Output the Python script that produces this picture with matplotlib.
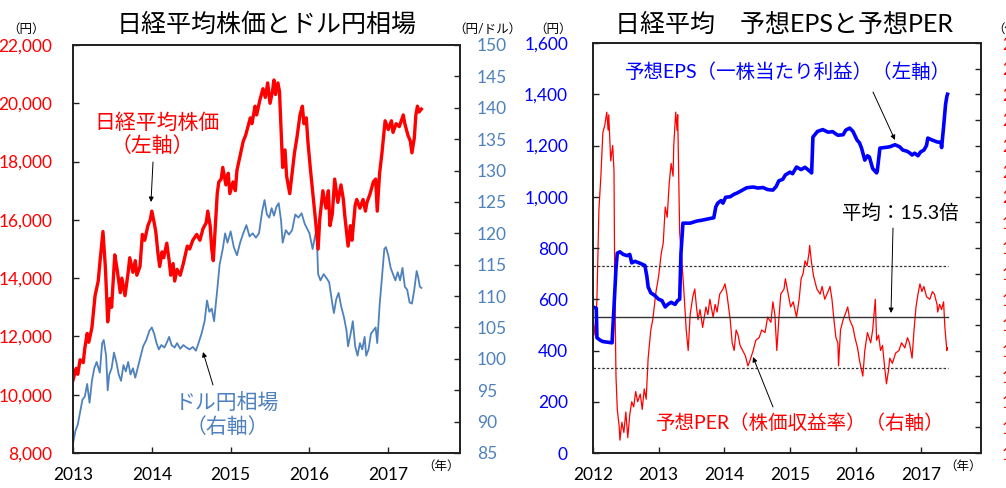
import matplotlib
matplotlib.use("Agg")
import matplotlib.pyplot as plt
from matplotlib.ticker import FuncFormatter, FixedLocator

plt.rcParams['font.family'] = ['Lato', 'Noto Sans CJK JP', 'DejaVu Sans']

# ---------------- data: left panel ----------------
nikkei_t = [2013.00, 2013.04, 2013.06, 2013.09, 2013.13, 2013.15, 2013.18, 2013.20, 2013.24, 2013.28,
            2013.32, 2013.34, 2013.38, 2013.41, 2013.43, 2013.44, 2013.47, 2013.49, 2013.53, 2013.56,
            2013.60, 2013.62, 2013.66, 2013.70, 2013.72, 2013.76, 2013.79, 2013.81, 2013.85, 2013.88,
            2013.91, 2013.95, 2013.98, 2014.00, 2014.03, 2014.05, 2014.08, 2014.10, 2014.13, 2014.15,
            2014.19, 2014.22, 2014.24, 2014.27, 2014.29, 2014.32, 2014.36, 2014.40, 2014.45, 2014.48,
            2014.52, 2014.57, 2014.61, 2014.65, 2014.69, 2014.71, 2014.74, 2014.76, 2014.78, 2014.80,
            2014.83, 2014.85, 2014.88, 2014.90, 2014.94, 2014.97, 2014.99, 2015.03, 2015.06, 2015.08,
            2015.12, 2015.16, 2015.19, 2015.25, 2015.27, 2015.31, 2015.33, 2015.37, 2015.41, 2015.44,
            2015.47, 2015.50, 2015.53, 2015.55, 2015.57, 2015.60, 2015.62, 2015.65, 2015.66, 2015.69,
            2015.71, 2015.75, 2015.78, 2015.81, 2015.84, 2015.88, 2015.91, 2015.93, 2015.96, 2015.98,
            2016.01, 2016.04, 2016.05, 2016.08, 2016.11, 2016.13, 2016.17, 2016.21, 2016.24, 2016.26,
            2016.29, 2016.32, 2016.36, 2016.40, 2016.43, 2016.45, 2016.49, 2016.52, 2016.54, 2016.58,
            2016.60, 2016.64, 2016.68, 2016.71, 2016.73, 2016.77, 2016.81, 2016.84, 2016.86, 2016.89,
            2016.92, 2016.96, 2017.00, 2017.04, 2017.06, 2017.10, 2017.14, 2017.19, 2017.21, 2017.25,
            2017.28, 2017.30, 2017.33, 2017.35, 2017.37, 2017.39, 2017.42]
nikkei_v = [10500, 10900, 10700, 11200, 11100, 11600, 12100, 11800, 12300, 13400,
            13900, 14500, 15600, 14400, 13200, 12500, 13300, 13000, 14800, 14300,
            13500, 14000, 13400, 14200, 14700, 14200, 14600, 14100, 14400, 15500,
            15300, 15800, 16000, 16300, 15900, 15600, 14800, 14400, 14900, 14700,
            15200, 14600, 14100, 14500, 13900, 14300, 14100, 14500, 15100, 15000,
            15300, 15500, 15300, 15700, 15900, 16300, 15800, 15000, 14600, 15500,
            16900, 17300, 17400, 17800, 17200, 17600, 16900, 17300, 17000, 17700,
            18200, 18700, 18900, 19500, 19300, 19900, 19600, 20100, 20500, 20200,
            20700, 20000, 20400, 20800, 20300, 20700, 20400, 18500, 17800, 18400,
            17500, 16900, 17600, 18300, 18800, 19600, 19900, 19300, 19500, 18700,
            17800, 17000, 16700, 15900, 15000, 16000, 17000, 16400, 17000, 15800,
            16200, 17400, 16600, 17200, 16700, 16100, 15100, 15800, 15300, 16500,
            16700, 16400, 16700, 16300, 16600, 16900, 17300, 17400, 16300, 17600,
            18300, 19400, 19100, 19400, 19000, 19300, 19200, 19600, 19300, 18900,
            18700, 18300, 18800, 19600, 19900, 19700, 19800]

usdjpy_t = [2013.00, 2013.03, 2013.06, 2013.09, 2013.12, 2013.15, 2013.18, 2013.21, 2013.24, 2013.27,
            2013.30, 2013.34, 2013.37, 2013.39, 2013.42, 2013.44, 2013.46, 2013.49, 2013.52, 2013.55,
            2013.58, 2013.61, 2013.64, 2013.67, 2013.70, 2013.73, 2013.76, 2013.79, 2013.82, 2013.85,
            2013.89, 2013.93, 2013.97, 2014.00, 2014.03, 2014.06, 2014.09, 2014.12, 2014.16, 2014.19,
            2014.22, 2014.25, 2014.29, 2014.32, 2014.36, 2014.40, 2014.44, 2014.48, 2014.52, 2014.56,
            2014.60, 2014.63, 2014.67, 2014.70, 2014.73, 2014.76, 2014.79, 2014.83, 2014.86, 2014.90,
            2014.93, 2014.96, 2015.00, 2015.04, 2015.08, 2015.12, 2015.16, 2015.20, 2015.24, 2015.28,
            2015.32, 2015.36, 2015.40, 2015.43, 2015.46, 2015.49, 2015.52, 2015.55, 2015.58, 2015.61,
            2015.64, 2015.66, 2015.70, 2015.74, 2015.78, 2015.82, 2015.86, 2015.90, 2015.94, 2016.00,
            2016.04, 2016.07, 2016.09, 2016.11, 2016.14, 2016.18, 2016.22, 2016.25, 2016.29, 2016.31,
            2016.34, 2016.37, 2016.40, 2016.44, 2016.47, 2016.49, 2016.53, 2016.55, 2016.58, 2016.61,
            2016.64, 2016.67, 2016.70, 2016.72, 2016.75, 2016.78, 2016.81, 2016.84, 2016.86, 2016.89,
            2016.92, 2016.95, 2016.97, 2017.00, 2017.03, 2017.06, 2017.09, 2017.12, 2017.15, 2017.18,
            2017.21, 2017.24, 2017.27, 2017.30, 2017.33, 2017.36, 2017.38, 2017.40, 2017.42]
usdjpy_v = [86.5, 88.5, 89.5, 91.5, 93.5, 94.0, 96.0, 93.0, 96.5, 98.5,
            99.5, 97.8, 102.5, 103.0, 100.5, 95.0, 97.5, 98.5, 101.0, 99.5,
            97.5, 96.5, 99.0, 98.0, 99.5, 97.5, 98.5, 97.0, 98.5, 100.0,
            102.0, 103.0, 104.5, 105.0, 104.0, 102.5, 101.5, 102.2, 101.8, 102.6,
            103.5, 102.2, 101.8, 102.5, 101.6, 102.2, 101.8, 101.5, 101.9, 101.3,
            102.8, 104.0, 106.0, 109.3, 107.5, 108.0, 106.0, 111.0, 115.0, 117.5,
            120.0, 118.5, 120.3, 117.8, 116.5, 118.5, 120.0, 121.3, 119.5, 120.0,
            119.3, 120.0, 123.5, 125.3, 123.0, 122.5, 124.0, 122.8, 124.2, 124.8,
            122.0, 118.5, 120.5, 119.8, 120.5, 123.0, 122.5, 123.2, 121.5, 120.0,
            117.5, 119.5, 120.5, 113.5, 112.5, 113.5, 112.8, 112.2, 108.8, 107.3,
            109.5, 110.5, 108.5, 106.5, 104.5, 102.0, 104.5, 106.0, 102.0, 100.5,
            102.5, 101.5, 103.5, 100.5, 101.5, 104.0, 104.5, 105.0, 102.5, 108.5,
            113.0, 117.5, 117.8, 116.5, 114.5, 113.5, 112.5, 113.8, 112.5, 114.5,
            111.5, 111.0, 109.0, 108.8, 111.0, 114.0, 113.0, 111.5, 111.3]

# ---------------- data: right panel ----------------
eps_t = [2012.00, 2012.05, 2012.06, 2012.11, 2012.15, 2012.23, 2012.29, 2012.32, 2012.35, 2012.37,
         2012.41, 2012.46, 2012.52, 2012.56, 2012.59, 2012.64, 2012.72, 2012.79, 2012.82, 2012.84,
         2012.88, 2012.94, 2013.00, 2013.05, 2013.10, 2013.14, 2013.19, 2013.25, 2013.29, 2013.32,
         2013.34, 2013.37, 2013.48, 2013.58, 2013.67, 2013.78, 2013.84, 2013.87, 2013.90, 2013.95,
         2013.98, 2014.02, 2014.09, 2014.15, 2014.19, 2014.27, 2014.34, 2014.44, 2014.51, 2014.59,
         2014.66, 2014.74, 2014.79, 2014.83, 2014.89, 2014.93, 2015.00, 2015.04, 2015.10, 2015.17,
         2015.23, 2015.30, 2015.33, 2015.35, 2015.42, 2015.50, 2015.58, 2015.65, 2015.73, 2015.81,
         2015.85, 2015.91, 2015.96, 2016.02, 2016.06, 2016.09, 2016.14, 2016.18, 2016.21, 2016.26,
         2016.32, 2016.33, 2016.37, 2016.44, 2016.52, 2016.60, 2016.67, 2016.72, 2016.78, 2016.82,
         2016.86, 2016.90, 2016.95, 2016.99, 2017.04, 2017.08, 2017.10, 2017.16, 2017.24, 2017.30,
         2017.31, 2017.34, 2017.37, 2017.39, 2017.40]
eps_v = [570, 565, 450, 440, 435, 432, 430, 570, 720, 780,
         785, 775, 770, 775, 742, 748, 740, 732, 690, 648,
         625, 615, 600, 595, 570, 580, 588, 580, 595, 600,
         780, 897, 897, 905, 909, 915, 918, 960, 975, 985,
         975, 998, 1000, 1010, 1014, 1025, 1035, 1038, 1034, 1036,
         1028, 1026, 1040, 1062, 1068, 1085, 1096, 1090, 1116, 1106,
         1115, 1100, 1093, 1233, 1255, 1262, 1252, 1254, 1240, 1242,
         1260, 1268, 1255, 1222, 1210, 1190, 1143, 1160, 1155, 1110,
         1093, 1100, 1190, 1192, 1195, 1203, 1195, 1182, 1178, 1172,
         1163, 1170, 1160, 1175, 1182, 1200, 1229, 1222, 1214, 1212,
         1192, 1272, 1360, 1392, 1400]

per_t = [2012.00, 2012.03, 2012.06, 2012.09, 2012.12, 2012.15, 2012.18, 2012.21, 2012.23, 2012.24,
         2012.27, 2012.30, 2012.32, 2012.33, 2012.35, 2012.37, 2012.40, 2012.41, 2012.44, 2012.47,
         2012.50, 2012.53, 2012.56, 2012.59, 2012.62, 2012.65, 2012.68, 2012.72, 2012.75, 2012.78,
         2012.81, 2012.84, 2012.88, 2012.91, 2012.96, 2013.00, 2013.04, 2013.07, 2013.10, 2013.13,
         2013.16, 2013.19, 2013.22, 2013.23, 2013.26, 2013.28, 2013.29, 2013.32, 2013.35, 2013.38,
         2013.42, 2013.45, 2013.48, 2013.52, 2013.55, 2013.58, 2013.60, 2013.63, 2013.67, 2013.72,
         2013.75, 2013.78, 2013.83, 2013.86, 2013.89, 2013.93, 2013.98, 2014.01, 2014.04, 2014.09,
         2014.12, 2014.15, 2014.18, 2014.21, 2014.24, 2014.28, 2014.32, 2014.36, 2014.39, 2014.44,
         2014.48, 2014.53, 2014.57, 2014.62, 2014.66, 2014.71, 2014.74, 2014.77, 2014.80, 2014.83,
         2014.86, 2014.91, 2014.93, 2014.98, 2015.01, 2015.05, 2015.10, 2015.14, 2015.17, 2015.20,
         2015.23, 2015.26, 2015.29, 2015.30, 2015.33, 2015.36, 2015.41, 2015.46, 2015.49, 2015.53,
         2015.58, 2015.61, 2015.64, 2015.67, 2015.70, 2015.73, 2015.74, 2015.77, 2015.81, 2015.84,
         2015.88, 2015.91, 2015.96, 2015.99, 2016.03, 2016.06, 2016.11, 2016.14, 2016.18, 2016.23,
         2016.26, 2016.30, 2016.32, 2016.35, 2016.38, 2016.41, 2016.44, 2016.47, 2016.50, 2016.52,
         2016.56, 2016.61, 2016.66, 2016.70, 2016.75, 2016.79, 2016.82, 2016.86, 2016.89, 2016.92,
         2016.95, 2016.98, 2017.01, 2017.04, 2017.08, 2017.13, 2017.17, 2017.20, 2017.24, 2017.25,
         2017.28, 2017.31, 2017.34, 2017.36, 2017.39, 2017.40]
per_v = [15.3, 14.6, 16.0, 19.5, 20.8, 22.5, 22.8, 23.3, 22.6, 23.2,
         21.4, 22.0, 21.0, 17.0, 13.0, 11.7, 11.0, 10.5, 11.2, 10.8,
         11.6, 10.6, 11.5, 12.0, 11.8, 12.4, 12.0, 12.3, 11.7, 12.5,
         12.1, 13.7, 14.8, 15.2, 16.3, 16.9, 17.8, 18.2, 19.6, 19.2,
         20.5, 21.3, 20.8, 22.0, 23.3, 22.6, 23.2, 18.6, 17.6, 16.5,
         14.8, 14.0, 15.4, 16.1, 16.4, 15.6, 15.2, 15.6, 14.9, 15.7,
         15.4, 16.0, 15.3, 15.8, 15.5, 16.2, 16.4, 16.6, 16.2, 15.2,
         14.3, 14.0, 14.8, 14.6, 14.2, 14.0, 13.8, 13.4, 13.6, 14.0,
         14.4, 14.5, 14.8, 14.7, 15.3, 15.1, 15.9, 15.4, 14.0, 15.2,
         16.2, 16.4, 16.8, 16.1, 15.7, 15.9, 15.3, 16.0, 16.8, 17.0,
         17.5, 17.3, 17.8, 18.1, 17.4, 16.9, 16.4, 16.2, 16.5, 16.0,
         16.3, 16.5, 16.0, 15.2, 14.5, 14.3, 13.4, 14.8, 15.2, 15.4,
         15.7, 15.2, 14.9, 14.5, 14.1, 13.6, 13.0, 14.0, 14.7, 14.3,
         14.8, 16.0, 14.4, 14.6, 14.0, 14.2, 13.4, 12.7, 13.2, 13.7,
         13.5, 13.9, 14.0, 14.3, 14.1, 14.5, 14.3, 13.7, 14.8, 15.7,
         16.2, 16.6, 16.3, 16.5, 16.1, 16.0, 16.3, 16.2, 15.8, 15.5,
         15.8, 15.6, 15.9, 14.9, 14.0, 14.1]

per_mean = 15.3
per_upper = 17.3
per_lower = 13.3
per_band_t = [2012.0, 2017.4]

left_years = [2013, 2014, 2015, 2016, 2017]
right_years = [2012, 2013, 2014, 2015, 2016, 2017]

RED = '#FF0000'
STEEL = '#4F81BD'
BLUE = '#0000FF'

W, H = 1006, 488
fig = plt.figure(figsize=(W / 100, H / 100), dpi=100)
fig.patch.set_facecolor('white')


def fx(x, y):
    return (x / W, 1 - y / H)


def style_axes(ax):
    for s in ax.spines.values():
        s.set_color('#222222')
        s.set_linewidth(1.3)


comma = FuncFormatter(lambda v, p: f"{int(round(v)):,}")

# ---------------- left panel ----------------
axL = fig.add_axes([73 / W, 35 / H, 387 / W, 408 / H])
axL2 = axL.twinx()
axL2.plot(usdjpy_t, usdjpy_v, color=STEEL, lw=1.3)
axL.plot(nikkei_t, nikkei_v, color=RED, lw=2.4, solid_joinstyle='round')
axL.set_zorder(axL2.get_zorder() + 1)
axL.patch.set_visible(False)
axL.set_xlim(2013.0, 2017.91)
axL.set_ylim(8000, 22000)
axL.yaxis.set_major_locator(FixedLocator(list(range(8000, 22001, 2000))))
axL.yaxis.set_major_formatter(comma)
axL2.set_ylim(85, 150)
axL2.yaxis.set_major_locator(FixedLocator(list(range(85, 151, 5))))
axL.xaxis.set_major_locator(FixedLocator(left_years))
axL.xaxis.set_major_formatter(FuncFormatter(lambda v, p: f"{int(round(v))}"))
axL.tick_params(axis='y', direction='in', length=4, width=1, colors='#222222',
                labelcolor=RED, labelsize=12.5, pad=15)
axL.tick_params(axis='x', direction='in', length=4, width=1, colors='#222222',
                labelcolor='black', labelsize=12.5, pad=10)
axL2.tick_params(axis='y', direction='in', length=4, width=1, colors='#222222',
                 labelcolor=STEEL, labelsize=12.5, pad=12)
style_axes(axL)
style_axes(axL2)

# ---------------- right panel ----------------
axR = fig.add_axes([593 / W, 35 / H, 388 / W, 410 / H])
axR2 = axR.twinx()
axR2.plot(per_t, per_v, color=RED, lw=0.9)
axR2.plot(per_band_t, [per_mean, per_mean], color='#333333', lw=1.0)
axR2.plot(per_band_t, [per_upper, per_upper], color='#333333', lw=0.9, ls=(0, (2, 1.5)))
axR2.plot(per_band_t, [per_lower, per_lower], color='#333333', lw=0.9, ls=(0, (2, 1.5)))
axR.plot(eps_t, eps_v, color=BLUE, lw=2.6, solid_joinstyle='round')
axR.set_zorder(axR2.get_zorder() + 1)
axR.patch.set_visible(False)
axR.set_xlim(2012.0, 2017.91)
axR.set_ylim(0, 1600)
axR.yaxis.set_major_locator(FixedLocator(list(range(0, 1601, 200))))
axR.yaxis.set_major_formatter(comma)
axR2.set_ylim(10, 26)
axR2.yaxis.set_major_locator(FixedLocator(list(range(10, 27, 1))))
axR.xaxis.set_major_locator(FixedLocator(right_years))
axR.xaxis.set_major_formatter(FuncFormatter(lambda v, p: f"{int(round(v))}"))
axR.tick_params(axis='y', direction='in', length=4, width=1, colors='#222222',
                labelcolor=BLUE, labelsize=12.5, pad=18)
axR.tick_params(axis='x', direction='in', length=4, width=1, colors='#222222',
                labelcolor='black', labelsize=12.5, pad=10)
axR2.tick_params(axis='y', direction='in', length=4, width=1, colors='#222222',
                 labelcolor=RED, labelsize=12.5, pad=15)
style_axes(axR)
style_axes(axR2)

# ---------------- titles and unit labels ----------------
fig.text(*fx(267, 24), '日経平均株価とドル円相場', fontsize=18, ha='center', va='center')
fig.text(*fx(784, 24), '日経平均　予想EPSと予想PER', fontsize=18, ha='center', va='center')
fig.text(*fx(26, 29), '（円）', fontsize=9, ha='center', va='center')
fig.text(*fx(487, 29), '（円/ドル）', fontsize=9, ha='center', va='center')
fig.text(*fx(553, 29), '（円）', fontsize=9, ha='center', va='center')
fig.text(*fx(992, 29), '（倍）', fontsize=9, ha='left', va='center')
fig.text(*fx(460, 466), '（年）', fontsize=9, ha='right', va='center')
fig.text(*fx(982, 466), '（年）', fontsize=9, ha='right', va='center')

# ---------------- annotations ----------------
arrow = dict(arrowstyle='-|>', color='black', lw=0.7, mutation_scale=7, shrinkA=0, shrinkB=0)
fig.text(*fx(157, 123), '日経平均株価', fontsize=15, color=RED, ha='center', va='center')
fig.text(*fx(152, 146), '（左軸）', fontsize=15, color=RED, ha='center', va='center')
axL.annotate('', xy=fx(151, 202), xytext=fx(153, 162), xycoords='figure fraction',
             textcoords='figure fraction', arrowprops=arrow)
fig.text(*fx(227, 403), 'ドル円相場', fontsize=15, color=STEEL, ha='center', va='center')
fig.text(*fx(227, 427), '（右軸）', fontsize=15, color=STEEL, ha='center', va='center')
axL.annotate('', xy=fx(203, 352), xytext=fx(213, 385), xycoords='figure fraction',
             textcoords='figure fraction', arrowprops=arrow)

fig.text(*fx(788, 72), '予想EPS（一株当たり利益）（左軸）', fontsize=14, color=BLUE,
         ha='center', va='center')
axR.annotate('', xy=fx(895, 140), xytext=fx(873, 92), xycoords='figure fraction',
             textcoords='figure fraction', arrowprops=arrow)
fig.text(*fx(900, 213), '平均：15.3倍', fontsize=14, color='black', ha='center', va='center')
axR.annotate('', xy=fx(891, 313), xytext=fx(893, 228), xycoords='figure fraction',
             textcoords='figure fraction', arrowprops=arrow)
fig.text(*fx(800, 423), '予想PER（株価収益率）（右軸）', fontsize=14, color=RED,
         ha='center', va='center')
axR.annotate('', xy=fx(753, 357), xytext=fx(773, 407), xycoords='figure fraction',
             textcoords='figure fraction', arrowprops=arrow)

fig.savefig('out.png', dpi=100, facecolor='white')
